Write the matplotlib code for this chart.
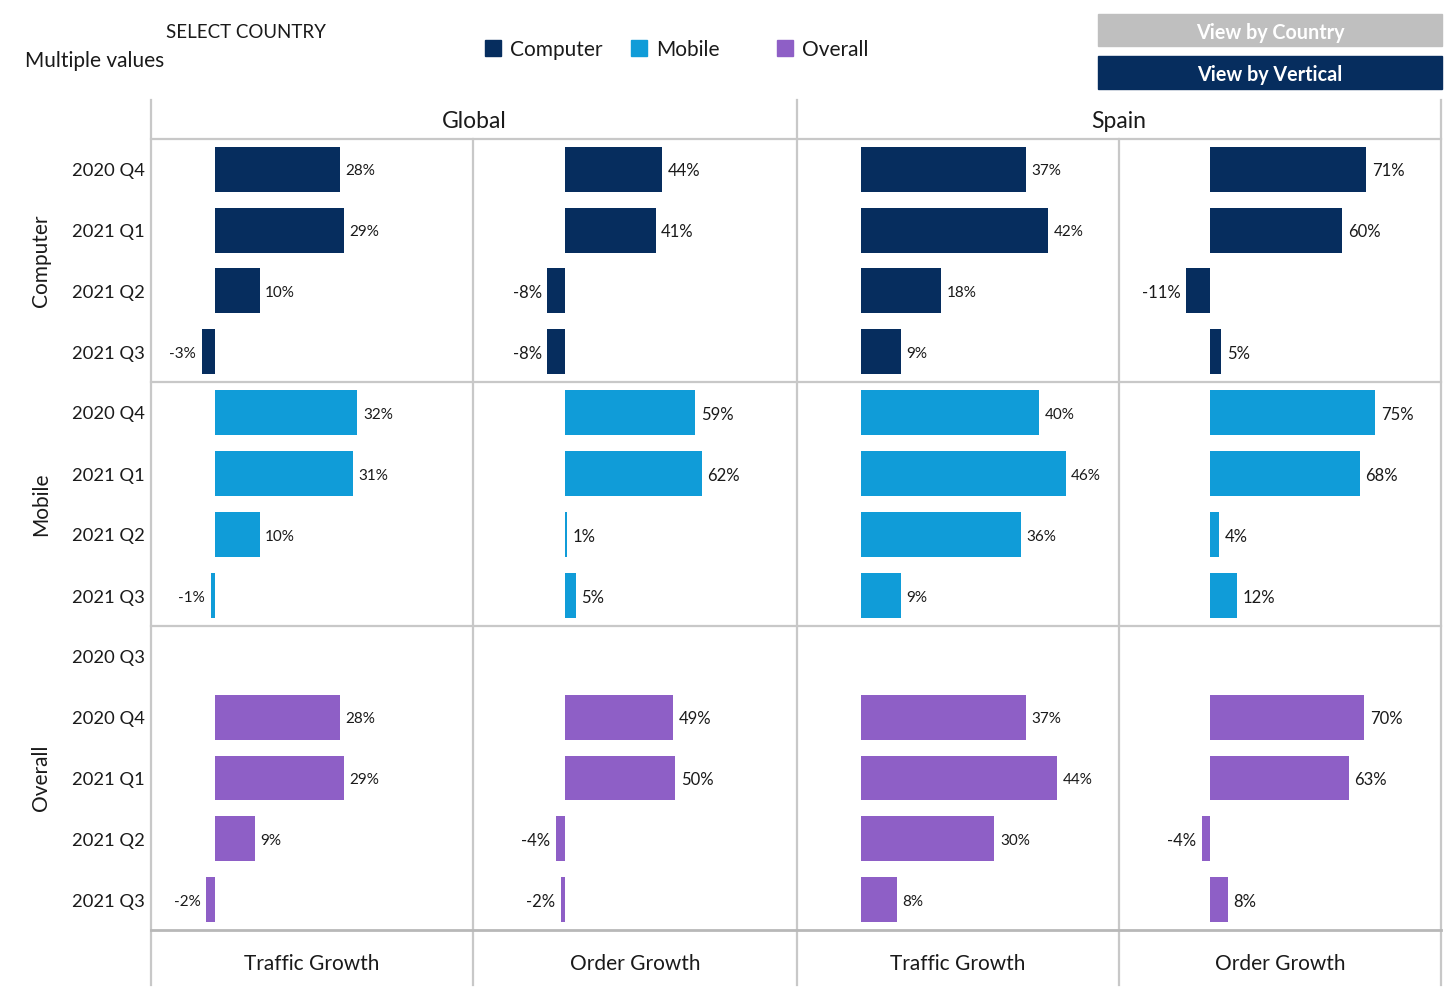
import matplotlib
matplotlib.use("Agg")
import matplotlib.pyplot as plt
from matplotlib.lines import Line2D
from matplotlib.patches import Rectangle

plt.rcParams['font.family'] = ['Lato', 'DejaVu Sans']

# ---------------- data ----------------
groups = ["Computer", "Mobile", "Overall"]
periods_computer = ["2020 Q4", "2021 Q1", "2021 Q2", "2021 Q3"]
periods_mobile = ["2020 Q4", "2021 Q1", "2021 Q2", "2021 Q3"]
periods_overall = ["2020 Q3", "2020 Q4", "2021 Q1", "2021 Q2", "2021 Q3"]
countries = ["Global", "Spain"]
measures = ["Traffic Growth", "Order Growth"]

# values (%), None = no data
global_traffic_computer = [28, 29, 10, -3]
global_order_computer = [44, 41, -8, -8]
spain_traffic_computer = [37, 42, 18, 9]
spain_order_computer = [71, 60, -11, 5]

global_traffic_mobile = [32, 31, 10, -1]
global_order_mobile = [59, 62, 1, 5]
spain_traffic_mobile = [40, 46, 36, 9]
spain_order_mobile = [75, 68, 4, 12]

global_traffic_overall = [None, 28, 29, 9, -2]
global_order_overall = [None, 49, 50, -4, -2]
spain_traffic_overall = [None, 37, 44, 30, 8]
spain_order_overall = [None, 70, 63, -4, 8]

# ---------------- styling ----------------
colors = {"Computer": "#062D5E", "Mobile": "#109CD8", "Overall": "#8E5FC6"}
grid_c = "#C8C8C8"
txt_c = "#1a1a1a"

W, H = 1456, 998
fig = plt.figure(figsize=(W / 100, H / 100), dpi=100)

def fx(x):
    return x / W

def fy(y):
    return 1 - y / H

DY = 2  # small vertical text correction (px)

col_edges = [151, 473, 797, 1119, 1441]
row_edges = [139, 382, 626, 930]
xlims = {"Traffic Growth": (-14.4, 58.0), "Order Growth": (-41.6, 105.0)}
label_size = {"Traffic Growth": 11, "Order Growth": 12}

data = {
    ("Computer", "Global", "Traffic Growth"): global_traffic_computer,
    ("Computer", "Global", "Order Growth"): global_order_computer,
    ("Computer", "Spain", "Traffic Growth"): spain_traffic_computer,
    ("Computer", "Spain", "Order Growth"): spain_order_computer,
    ("Mobile", "Global", "Traffic Growth"): global_traffic_mobile,
    ("Mobile", "Global", "Order Growth"): global_order_mobile,
    ("Mobile", "Spain", "Traffic Growth"): spain_traffic_mobile,
    ("Mobile", "Spain", "Order Growth"): spain_order_mobile,
    ("Overall", "Global", "Traffic Growth"): global_traffic_overall,
    ("Overall", "Global", "Order Growth"): global_order_overall,
    ("Overall", "Spain", "Traffic Growth"): spain_traffic_overall,
    ("Overall", "Spain", "Order Growth"): spain_order_overall,
}
periods = {"Computer": periods_computer, "Mobile": periods_mobile, "Overall": periods_overall}

for gi, g in enumerate(groups):
    top, bot = row_edges[gi], row_edges[gi + 1]
    labels = periods[g]
    n = len(labels)
    ci = 0
    for c in countries:
        for m in measures:
            left, right = col_edges[ci], col_edges[ci + 1]
            ax = fig.add_axes([fx(left), fy(bot), fx(right - left), (bot - top) / H])
            ax.set_xlim(*xlims[m])
            ax.set_ylim(n - 0.5, -0.5)
            ax.axis("off")
            vals = data[(g, c, m)]
            for i, v in enumerate(vals):
                if v is None:
                    continue
                ax.barh(i, v, height=0.74, color=colors[g], edgecolor="none")
                if v >= 0:
                    ax.annotate(f"{v}%", (v, i), xytext=(4, -1.5), textcoords="offset points",
                                ha="left", va="center", fontsize=label_size[m], color=txt_c)
                else:
                    ax.annotate(f"{v}%", (v, i), xytext=(-4, -1.5), textcoords="offset points",
                                ha="right", va="center", fontsize=label_size[m], color=txt_c)
            ci += 1
    # row labels
    rh = (bot - top) / n
    for i, lab in enumerate(labels):
        fig.text(fx(145), fy(top + rh * (i + 0.5) + DY), lab, ha="right", va="center",
                 fontsize=13.2, color=txt_c)
    fig.text(fx(41), fy((top + bot) / 2), g, ha="center", va="center", rotation=90,
             fontsize=15, color=txt_c)

# grid lines
def hline(y, x0, x1, c=grid_c, lw=1.6):
    fig.add_artist(Line2D([fx(x0), fx(x1)], [fy(y), fy(y)], color=c, lw=lw))

def vline(x, y0, y1, c=grid_c, lw=1.6):
    fig.add_artist(Line2D([fx(x), fx(x)], [fy(y0), fy(y1)], color=c, lw=lw))

for x in [151, 797, 1441]:
    vline(x, 100, 985)
for x in [473, 1119]:
    vline(x, 139, 985)
for y in [139, 382, 626]:
    hline(y, 151, 1441)
hline(930, 151, 1441, c="#B8B8B8", lw=2)

# headers
fig.text(fx((151 + 797) / 2), fy(120 + DY), countries[0], ha="center", va="center", fontsize=16.5, color=txt_c)
fig.text(fx((797 + 1441) / 2), fy(120 + DY), countries[1], ha="center", va="center", fontsize=16.5, color=txt_c)
for ci in range(4):
    m = measures[ci % 2]
    fig.text(fx((col_edges[ci] + col_edges[ci + 1]) / 2), fy(962 + DY), m, ha="center", va="center",
             fontsize=15, color=txt_c)

# top controls
fig.text(fx(246), fy(31 + DY), "SELECT COUNTRY", ha="center", va="center", fontsize=13.5, color=txt_c)
fig.text(fx(25), fy(59 + DY), "Multiple values", ha="left", va="center", fontsize=15, color=txt_c)

legend_x = [485, 631, 777]
for lx, g in zip(legend_x, groups):
    fig.add_artist(Rectangle((fx(lx), fy(56)), 16 / W, 16 / H, color=colors[g], transform=fig.transFigure))
    fig.text(fx(lx + 25), fy(48 + DY), g, ha="left", va="center", fontsize=15, color=txt_c)

fig.add_artist(Rectangle((fx(1098), fy(46)), 344 / W, 32 / H, color="#BFBFBF", transform=fig.transFigure))
fig.text(fx(1270), fy(31 + DY), "View by Country", ha="center", va="center", fontsize=14.2,
         fontweight="bold", color="white")
fig.add_artist(Rectangle((fx(1098), fy(89)), 344 / W, 33 / H, color="#062D5E", transform=fig.transFigure))
fig.text(fx(1270), fy(73 + DY), "View by Vertical", ha="center", va="center", fontsize=14.2,
         fontweight="bold", color="white")

fig.savefig("out.png", dpi=100, facecolor="white")
